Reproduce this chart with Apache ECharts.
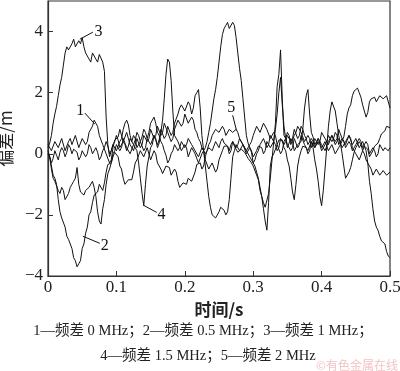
<!DOCTYPE html>
<html><head><meta charset="utf-8">
<script src="https://cdn.jsdelivr.net/npm/echarts@6/dist/echarts.min.js"></script>
<style>html,body{margin:0;padding:0;background:#fff}#c{width:400px;height:371px}</style>
</head><body><div id="c"></div>
<script>
// sample times (s)
const times = [
0,0.0025,0.005,0.0075,0.01,0.0125,0.015,0.0175,0.02,0.0225,0.025,0.0275,0.03,0.0325,0.035,0.0375,0.04,0.0425,0.045,0.0475,
0.05,0.0525,0.055,0.0575,0.06,0.0625,0.065,0.0675,0.07,0.0725,0.075,0.0775,0.08,0.0825,0.085,0.0875,0.09,0.0925,0.095,0.0975,
0.1,0.1025,0.105,0.1075,0.11,0.1125,0.115,0.1175,0.12,0.1225,0.125,0.1275,0.13,0.1325,0.135,0.1375,0.14,0.1425,0.145,0.1475,
0.15,0.1525,0.155,0.1575,0.16,0.1625,0.165,0.1675,0.17,0.1725,0.175,0.1775,0.18,0.1825,0.185,0.1875,0.19,0.1925,0.195,0.1975,
0.2,0.2025,0.205,0.2075,0.21,0.2125,0.215,0.2175,0.22,0.2225,0.225,0.2275,0.23,0.2325,0.235,0.2375,0.24,0.2425,0.245,0.2475,
0.25,0.2525,0.255,0.2575,0.26,0.2625,0.265,0.2675,0.27,0.2725,0.275,0.2775,0.28,0.2825,0.285,0.2875,0.29,0.2925,0.295,0.2975,
0.3,0.3025,0.305,0.3075,0.31,0.3125,0.315,0.3175,0.32,0.3225,0.325,0.3275,0.33,0.3325,0.335,0.3375,0.34,0.3425,0.345,0.3475,
0.35,0.3525,0.355,0.3575,0.36,0.3625,0.365,0.3675,0.37,0.3725,0.375,0.3775,0.38,0.3825,0.385,0.3875,0.39,0.3925,0.395,0.3975,
0.4,0.4025,0.405,0.4075,0.41,0.4125,0.415,0.4175,0.42,0.4225,0.425,0.4275,0.43,0.4325,0.435,0.4375,0.44,0.4425,0.445,0.4475,
0.45,0.4525,0.455,0.4575,0.46,0.4625,0.465,0.4675,0.47,0.4725,0.475,0.4775,0.48,0.4825,0.485,0.4875,0.49,0.4925,0.495,0.4975,
0.5];

// 1 — 0 MHz
const s1 = [
0.3,0.35,0.1,0.15,0.4,0.45,0.2,0.25,0.5,0.45,0.1,0.1,0.4,0.5,0.3,0.3,0.6,0.55,0.2,0.2,
0.5,0.55,0.3,0.4,0.7,0.65,0.9,1.1,1.0,0.9,0.6,0.6,0.3,0.25,0.0,0.05,-0.3,-0.2,0.2,0.45,
0.5,0.55,0.8,0.75,0.4,0.45,0.7,0.65,0.3,0.3,0.1,0.15,0.5,0.5,0.2,0.3,0.6,0.65,0.4,0.5,
0.8,0.8,0.5,0.6,0.9,0.85,0.6,0.7,1.0,1.0,0.7,0.65,0.4,0.5,0.8,0.85,1.1,1.15,0.9,1.0,
1.3,1.25,1.0,1.0,1.2,1.1,0.8,0.7,0.5,0.4,0.2,0.1,-0.2,-0.25,-0.5,-0.5,-0.3,-0.35,-0.6,-0.5,
-0.2,-0.15,0.1,0.25,0.3,0.25,0.0,0.1,0.4,0.4,0.2,0.3,0.5,0.5,0.3,0.25,0.1,0.1,0.3,0.4,
0.6,0.65,0.9,0.9,0.7,0.75,1.0,1.0,0.8,0.75,0.5,0.5,0.7,0.6,0.3,0.25,0.0,0.1,0.4,0.5,
0.7,0.6,0.3,0.35,0.6,0.7,0.9,0.9,0.7,0.65,0.4,0.4,0.6,0.5,0.2,0.25,0.5,0.5,0.3,0.4,
0.7,0.7,0.5,0.5,0.3,0.35,0.6,0.6,0.4,0.5,0.8,0.75,0.5,0.5,0.3,0.35,0.6,0.5,0.2,0.15,
0.0,0.0,-0.2,-0.15,0.1,0.25,0.2,0.15,-0.1,-0.1,0.1,0.25,0.3,0.35,0.5,0.65,0.7,0.75,0.9,0.95,
0.85];

// 2 — 0.5 MHz
const s2 = [
0.0,-0.1,-0.4,-0.7,-0.8,-1.0,-1.5,-1.9,-2.1,-2.15,-2.4,-2.7,-2.8,-2.85,-3.1,-3.4,-3.5,-3.7,-3.6,-3.5,
-3.1,-2.95,-2.6,-2.4,-2.0,-1.9,-1.6,-1.35,-1.3,-1.25,-1.0,-0.95,-1.2,-0.95,-0.6,-0.35,-0.3,-0.3,-0.1,0.05,
0.1,-0.1,-0.4,-0.5,-0.8,-1.0,-1.05,-0.85,-0.9,-0.85,-0.6,-0.3,-0.2,-0.15,0.1,0.1,-0.1,-0.05,0.2,0.15,
-0.2,-0.15,0.1,0.0,-0.3,-0.3,-0.5,-0.65,-0.6,-0.4,-0.4,-0.45,-0.7,-0.7,-0.5,-0.6,-0.9,-1.1,-1.1,-0.95,
-1.0,-1.0,-0.8,-0.75,-0.9,-0.85,-0.6,-0.35,-0.3,-0.3,-0.5,-0.4,-0.1,0.1,0.2,0.25,0.1,0.15,0.4,0.4,
0.2,0.4,0.5,0.35,0.3,0.25,0.1,0.3,0.4,0.25,0.2,0.05,0.0,0.15,0.2,0.05,0.0,-0.15,-0.2,-0.3,
-0.4,-0.45,-0.7,-0.85,-1.2,-1.4,-1.8,-2.2,-2.5,-1.6,-0.4,-0.1,0.0,0.05,0.3,0.45,0.5,0.45,0.2,0.1,
-0.2,-0.4,-0.8,-1.25,-1.5,-1.0,-0.4,-0.1,0.1,0.25,0.3,0.2,0.0,0.1,0.4,0.35,0.2,0.25,0.5,0.5,
0.3,0.3,0.1,0.15,0.4,0.45,0.6,0.55,0.3,0.35,0.5,0.45,0.2,0.2,0.4,0.45,0.6,0.55,0.3,0.35,
0.5,0.45,0.2,0.2,0.4,0.35,0.1,-0.3,-0.9,-1.3,-1.8,-2.2,-2.4,-2.5,-2.7,-2.85,-2.9,-2.95,-3.2,-3.35,
-3.4];

// 3 — 1 MHz
const s3 = [
0.2,0.35,0.6,1.0,1.3,1.55,1.9,2.25,2.5,2.9,3.3,3.5,3.4,3.35,3.6,3.75,3.5,3.45,3.7,3.6,
3.8,3.5,3.3,3.35,3.1,3.0,3.3,3.35,3.1,3.0,3.25,3.3,3.0,2.7,1.2,0.3,-0.1,0.1,0.3,0.35,
0.1,0.15,0.4,0.5,0.8,1.0,1.1,0.95,0.6,0.4,0.6,0.5,0.2,0.25,0.4,0.35,0.1,0.2,0.5,0.5,
0.3,0.35,0.6,0.5,0.2,0.35,0.7,1.1,1.8,2.6,3.1,3.0,2.4,1.4,0.6,0.65,0.4,0.35,0.1,0.1,
0.3,0.2,-0.1,-0.05,0.2,0.2,0.0,-0.05,-0.3,-0.25,0.0,0.0,0.2,0.4,0.7,1.0,1.4,1.8,2.1,2.5,
3.0,3.5,3.9,4.1,4.2,4.3,4.1,4.15,4.3,4.2,3.8,3.3,2.8,2.4,1.8,1.2,0.6,0.35,0.2,0.1,
-0.1,-0.05,0.1,0.25,0.3,0.2,0.0,0.1,0.4,0.35,0.2,0.2,0.4,1.0,2.2,2.6,3.4,1.8,0.6,0.5,
0.2,0.25,0.5,0.4,0.1,0.15,0.3,0.25,0.4,0.8,1.5,1.9,2.1,1.3,0.7,0.55,0.3,0.3,0.5,0.45,
0.2,0.2,0.4,0.35,0.1,0.1,0.3,0.25,0.0,0.0,0.2,0.3,0.3,0.55,0.9,1.3,1.5,1.6,1.9,2.05,
2.1,2.15,2.0,1.85,1.6,1.4,1.2,1.35,1.7,1.8,1.8,1.85,1.7,1.75,1.9,1.95,1.8,1.75,1.9,1.85,
1.5];

// 4 — 1.5 MHz
const s4 = [
0.1,-0.1,-0.5,-0.8,-0.9,-0.95,-1.2,-1.3,-1.1,-1.2,-1.5,-1.55,-1.3,-1.1,-1.0,-0.9,-0.8,-0.45,-1.0,-1.25,
-1.3,-1.35,-1.2,-1.15,-1.1,-1.05,-0.9,-1.1,-1.4,-1.9,-2.2,-2.3,-1.8,-1.5,-1.0,-0.65,-0.5,-0.3,0.0,0.1,
0.3,0.3,0.1,0.2,0.5,0.45,0.2,0.15,0.0,0.05,0.3,0.3,0.1,-0.3,-0.8,-1.3,-1.7,-1.0,-0.4,-0.1,
0.2,0.3,0.6,0.55,0.3,0.45,0.8,0.75,0.5,0.6,0.9,0.85,0.6,0.7,1.0,1.05,1.3,1.5,1.6,1.6,
1.4,1.45,1.7,1.6,1.3,1.5,1.9,2.0,2.1,1.5,0.6,0.1,-0.4,-0.9,-1.4,-1.75,-2.0,-1.95,-2.1,-2.1,
-1.9,-1.75,-1.8,-1.85,-2.0,-1.9,-1.5,-0.8,-0.1,0.1,0.3,0.3,0.1,0.15,0.3,0.25,0.0,0.05,0.2,0.05,
-0.3,-0.4,-0.6,-0.8,-1.1,-1.4,-1.6,-1.75,-1.7,-1.3,-0.8,-0.2,0.4,0.8,1.3,2.0,2.5,1.6,0.9,0.5,
0.3,0.3,0.1,0.2,0.5,0.45,0.2,0.3,0.6,0.55,0.3,0.25,0.1,0.15,0.4,0.2,-0.2,-0.5,-0.9,-1.4,
-1.7,-1.2,-0.5,0.2,0.9,1.4,1.7,1.75,1.4,1.0,0.6,0.35,0.0,-0.4,-0.8,-0.85,-0.6,-0.45,-0.2,0.05,
0.2,0.25,0.4,0.3,0.1,0.0,-0.2,-0.25,-0.4,-0.5,-0.7,-0.7,-0.5,-0.55,-0.7,-0.75,-0.55,-0.55,-0.7,-0.75,
-0.6];

// 5 — 2 MHz
const s5 = [
0.0,-0.1,-0.3,-0.15,0.1,-0.05,-0.2,0.05,0.2,0.1,-0.1,0.05,0.3,0.2,0.0,0.15,0.2,0.05,-0.2,-0.1,
0.1,0.05,-0.1,0.0,0.3,0.2,0.0,0.05,0.2,0.05,-0.2,-0.1,0.1,0.2,0.4,0.25,0.0,0.1,0.3,0.4,
0.6,0.45,0.2,0.25,0.4,0.3,0.1,0.25,0.5,0.45,0.3,0.45,0.7,0.6,0.4,0.55,0.8,0.7,0.5,0.7,
1.0,1.05,1.2,1.0,0.7,0.6,0.4,0.3,0.1,-0.05,-0.3,-0.2,0.0,0.1,0.3,0.25,0.1,0.2,0.4,0.35,
0.2,0.3,0.5,0.45,0.3,0.25,0.1,0.05,-0.1,-0.05,0.2,0.15,0.0,0.1,0.3,0.4,0.6,0.65,0.8,0.85,
0.7,0.75,0.9,0.8,0.6,0.65,0.8,0.85,0.7,0.7,0.8,0.7,0.5,0.45,0.3,0.25,0.1,0.05,-0.1,-0.15,
-0.3,-0.2,0.0,0.1,0.3,0.35,0.5,0.45,0.2,0.3,0.6,0.55,0.4,0.3,0.1,0.2,0.5,0.45,0.3,0.4,
0.6,0.55,0.4,0.5,0.8,0.75,0.5,0.6,0.9,0.8,0.6,0.5,0.3,0.35,0.5,0.4,0.2,0.25,0.4,0.3,
0.1,0.15,0.3,0.4,0.6,0.55,0.4,0.5,0.7,0.6,0.3,0.35,0.5,0.4,0.2,0.25,0.4,0.3,0.1,0.15,
0.3,0.35,0.5,0.4,0.2,0.25,0.4,0.3,0.0,0.05,0.2,0.1,-0.1,0.0,0.3,0.25,0.1,0.2,0.2,0.1,
0.2];

const xTicks = [0, 0.1, 0.2, 0.3, 0.4, 0.5];
const yTicks = [-4, -2, 0, 2, 4];

// curve labels: [text, label position, leader start, leader end] in data units
const curveLabels = [
  ['1', [0.047, 1.42], [0.054, 1.33], [0.0685, 0.97]],
  ['2', [0.083, -3.0], [0.0758, -2.93], [0.051, -2.7]],
  ['3', [0.074, 3.98], [0.0656, 3.98], [0.0466, 3.75]],
  ['4', [0.166, -2.0], [0.159, -1.92], [0.140, -1.69]],
  ['5', [0.268, 1.49], [0.270, 1.26], [0.2755, 0.77]]
];

const captions = ['1—频差 0 MHz；2—频差 0.5 MHz；3—频差 1 MHz；', '4—频差 1.5 MHz；5—频差 2 MHz'];

const SERIF = '"Liberation Serif","Times New Roman","Noto Sans CJK SC",serif';
const chart = echarts.init(document.getElementById('c'), null, {renderer: 'canvas'});
const mk = (arr) => times.map((t, i) => [t, arr[i]]);
const lineStyle = {color: '#111', width: 1};
const seriesList = [s1, s2, s3, s4, s5].map((a, k) => ({
  type: 'line', name: String(k + 1), data: mk(a), showSymbol: false, symbol: 'none',
  lineStyle: lineStyle, animation: false, silent: true
}));

chart.setOption({
  animation: false,
  grid: {left: 48, right: 10, top: 1, bottom: 95, show: true, borderColor: '#333', borderWidth: 1.2,
    containLabel: false, outerBoundsMode: 'none'},
  xAxis: {
    type: 'value', min: xTicks[0], max: xTicks[xTicks.length - 1], interval: 0.1,
    name: '时间/s', nameLocation: 'middle', nameGap: 22,
    nameTextStyle: {fontFamily: '"Noto Sans CJK SC",sans-serif', fontSize: 17, fontWeight: 'bold', color: '#222'},
    axisLine: {onZero: false, lineStyle: {color: '#333', width: 1.2}},
    axisTick: {inside: true, length: 5, lineStyle: {color: '#333'}},
    axisLabel: {fontFamily: SERIF, fontSize: 17, color: '#222', margin: 3,
      formatter: v => String(v)},
    splitLine: {show: false}
  },
  yAxis: {
    type: 'value', min: yTicks[0], max: 5, interval: 2,
    name: '偏差/m', nameLocation: 'middle', nameGap: 27, nameRotate: 90,
    nameTextStyle: {fontFamily: '"Noto Sans CJK SC",sans-serif', fontSize: 17, color: '#222'},
    axisLine: {onZero: false, lineStyle: {color: '#333', width: 1.2}},
    axisTick: {inside: true, length: 5, lineStyle: {color: '#333'}},
    axisLabel: {fontFamily: SERIF, fontSize: 17, color: '#222', margin: 5, showMaxLabel: false,
      formatter: v => (v === 5 ? '' : String(v).replace('-', '\u2212'))},
    splitLine: {show: false}
  },
  series: seriesList
});

function drawGraphics() {
  const g = [];
  curveLabels.forEach(([txt, lp, a, b]) => {
    const p = chart.convertToPixel({gridIndex: 0}, lp);
    const pa = chart.convertToPixel({gridIndex: 0}, a);
    const pb = chart.convertToPixel({gridIndex: 0}, b);
    g.push({type: 'line', shape: {x1: pa[0], y1: pa[1], x2: pb[0], y2: pb[1]}, style: {stroke: '#111', lineWidth: 1}, silent: true});
    g.push({type: 'text', x: p[0], y: p[1], style: {text: txt, font: '16px ' + SERIF, fill: '#111', align: 'center', verticalAlign: 'middle'}, silent: true});
  });
  g.push({type: 'text', x: 203, y: 331, style: {text: captions[0], font: '14.5px ' + SERIF, fill: '#222', align: 'center', verticalAlign: 'middle'}});
  g.push({type: 'text', x: 208, y: 356, style: {text: captions[1], font: '14.5px ' + SERIF, fill: '#222', align: 'center', verticalAlign: 'middle'}});
  g.push({type: 'text', x: 398, y: 365, style: {text: '©有色金属在线', font: '12px "Noto Sans CJK SC",sans-serif', fill: '#f2c4c4', align: 'right', verticalAlign: 'middle'}});
  chart.setOption({graphic: g});
}
drawGraphics();
</script>
</body></html>
